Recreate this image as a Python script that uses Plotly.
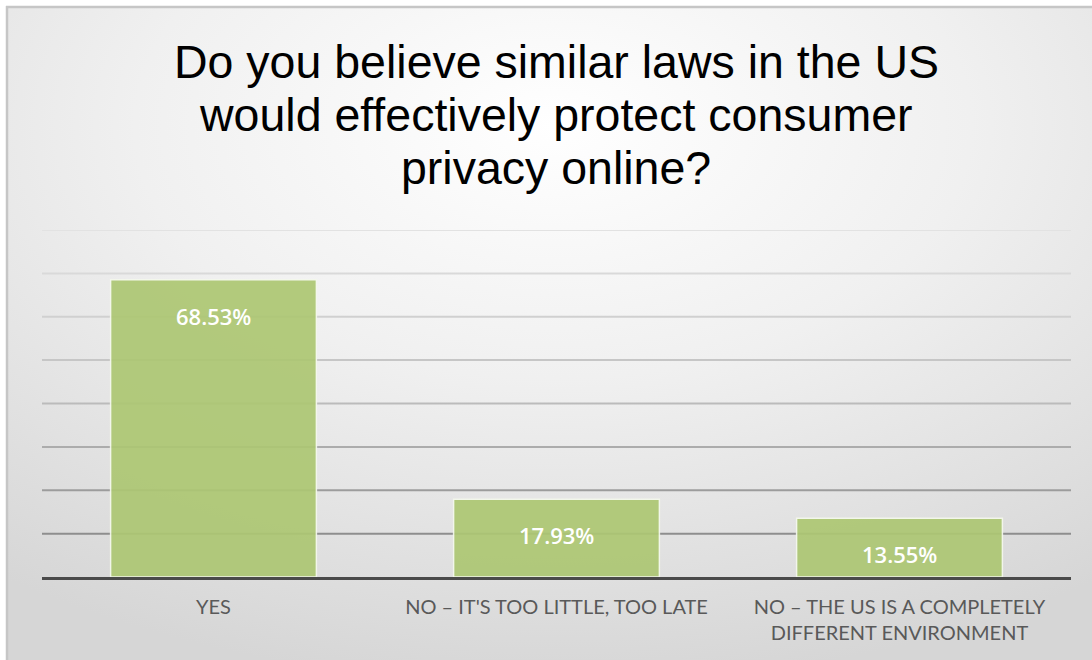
import base64
import plotly.graph_objects as go

# ---- data ----
categories = ["YES", "NO – IT'S TOO LITTLE, TOO LATE", "NO – THE US IS A COMPLETELY<br>DIFFERENT ENVIRONMENT"]
values = [68.53, 17.93, 13.55]
value_labels = ["68.53%", "17.93%", "13.55%"]
title_lines = ["Do you believe similar laws in the US", "would effectively protect consumer", "privacy online?"]
grid_values = [10, 20, 30, 40, 50, 60, 70, 80]

W, H = 1092, 660
L, R, T, B = 42, 21, 230, 83
PW, PH = W - L - R, H - T - B

def px_to_paper_x(px):
    return (px - L) / PW

def px_to_paper_y(py):
    return (H - B - py) / PH

svg = f"""<svg xmlns='http://www.w3.org/2000/svg' width='{W}' height='{H}' viewBox='0 0 {W} {H}'>
<defs><radialGradient id='g' cx='0.5' cy='0.18' r='0.85' gradientUnits='objectBoundingBox'>
<stop offset='0' stop-color='#ffffff'/><stop offset='0.45' stop-color='#f0f0f0'/><stop offset='1' stop-color='#d6d6d6'/></radialGradient></defs>
<rect x='0' y='0' width='{W}' height='{H}' fill='#ffffff'/>
<rect x='7' y='7' width='{W}' height='{H}' fill='url(#g)'/>
<line x1='6' y1='7' x2='{W}' y2='7' stroke='#c6c6c6' stroke-width='2.5'/>
<line x1='7' y1='6' x2='7' y2='{H}' stroke='#c6c6c6' stroke-width='2.5'/>
</svg>"""
src = "data:image/svg+xml;base64," + base64.b64encode(svg.encode()).decode()

grid_colors = ["#8e8e8e", "#9c9c9c", "#acacac", "#bbbbbb", "#c6c6c6", "#d0d0d0", "#d9d9d9", "#e2e2e2"]

fig = go.Figure()
fig.add_trace(go.Bar(
    x=categories, y=values, width=0.6,
    marker=dict(color="#adc773", opacity=0.92, line=dict(color="#f4f8ec", width=1.5)),
    hoverinfo="skip",
))

shapes = []
for gv, gc in zip(grid_values, grid_colors):
    shapes.append(dict(type="line", xref="paper", yref="y", x0=0, x1=1, y0=gv, y1=gv,
                       line=dict(color=gc, width=2), layer="below"))

annotations = []
for c, v, t in zip(categories, values, value_labels):
    annotations.append(dict(x=c, y=v, xref="x", yref="y", text=t, showarrow=False,
                            yanchor="middle", yshift=-36,
                            font=dict(family="Open Sans", size=22, color="#ffffff", weight=600)))

title_centers = [62, 115, 168]
for line, cy in zip(title_lines, title_centers):
    annotations.append(dict(x=px_to_paper_x(556), y=px_to_paper_y(cy), xref="paper", yref="paper",
                            text=line, showarrow=False, xanchor="center", yanchor="middle",
                            font=dict(family="Liberation Sans, Arial", size=46.5, color="#000000")))

fig.update_layout(
    width=W, height=H,
    margin=dict(l=L, r=R, t=T, b=B),
    paper_bgcolor="#ffffff", plot_bgcolor="rgba(0,0,0,0)",
    showlegend=False,
    shapes=shapes,
    annotations=annotations,
    images=[dict(source=src, xref="paper", yref="paper",
                 x=px_to_paper_x(0), y=px_to_paper_y(0),
                 sizex=W / PW, sizey=H / PH, xanchor="left", yanchor="top",
                 sizing="stretch", layer="below")],
    xaxis=dict(showgrid=False, showline=True, linecolor="#4a4a4a", linewidth=3,
               ticks="", tickfont=dict(family="Lato", size=20, color="#595959"),
               ticklabelstandoff=10, fixedrange=True),
    yaxis=dict(range=[0, 80], showgrid=False, showticklabels=False, zeroline=False,
               showline=False, fixedrange=True),
    bargap=0.4,
)

fig.write_html("out.html")
